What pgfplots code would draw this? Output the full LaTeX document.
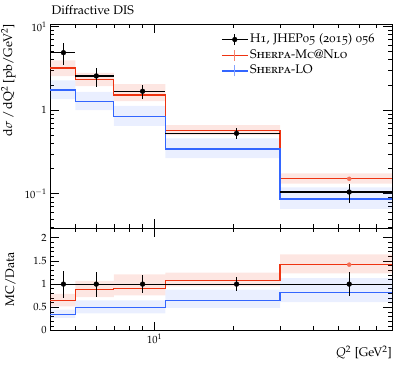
\documentclass[border=0pt]{standalone}
\usepackage[T1]{fontenc}
\usepackage[osf]{mathpazo}
\usepackage{pgfplots}
\usepackage{pgfplotstable}
\pgfplotsset{compat=1.18}
\definecolor{rred}{HTML}{EE3311}
\definecolor{rblue}{HTML}{3366FF}

\pgfplotstableread{
x y ex ey
4.5 4.86 0.5 1.4
6 2.56 1 0.65
9 1.68 2 0.34
20.5 0.528 9.5 0.08
55 0.105 25 0.027
}\data

\pgfplotstableread{
x y ex ey
4.5 1 0.5 0.29
6 1 1 0.27
9 1 2 0.20
20.5 1 9.5 0.155
55 1 25 0.26
}\dataratio

\pgfplotstableread{
x red blue
4 3.19 1.74
5 2.30 1.28
7 1.52 0.832
11 0.567 0.343
30 0.151 0.0865
80 0.151 0.0865
}\mc

\pgfplotstableread{
x red blue
4 0.64 0.35
5 0.88 0.49
7 0.90 0.49
11 1.08 0.65
30 1.42 0.82
80 1.42 0.82
}\ratio

\newcommand{\lblfont}{\fontsize{12.5}{15}\selectfont}

\begin{document}
\begin{tikzpicture}[font=\fontsize{12}{14}\selectfont]
\useasboundingbox (0bp,0bp) rectangle (405bp,365bp);
% ---------- main panel
\begin{axis}[
  at={(50bp,137bp)}, anchor=south west,
  scale only axis, width=342bp, height=204bp,
  xmode=log, ymode=log, xmin=4, xmax=80, ymin=0.039, ymax=10.7,
  xtick={10}, minor xtick={5,6,7,8,9,20,30,40,50,60,70},
  xticklabels={},
  ytick={0.1,1,10}, yticklabels={$10^{-1}$,$1$,$10^{1}$},
  minor ytick={0.04,0.05,0.06,0.07,0.08,0.09,0.2,0.3,0.4,0.5,0.6,0.7,0.8,0.9,2,3,4,5,6,7,8,9},
  major tick length=9bp, minor tick length=4.5bp,
  tick align=inside, tick pos=both,
  axis line style={line width=0.8bp},
  tick style={line width=0.6bp, black},
  tick label style={font=\fontsize{10.5}{12}\selectfont},
  title={\lblfont Diffractive DIS},
  title style={at={(rel axis cs:0,1)}, anchor=base west, inner sep=0pt, xshift=1.5bp, yshift=4bp},
  ylabel={\lblfont d$\sigma$\,/\,dQ$^2$ [pb/GeV$^2$]},
  ylabel style={at={(rel axis cs:-0.1,1)}, anchor=south east, inner sep=0pt},
  legend style={at={(rel axis cs:0.5,0.962)}, anchor=north west, draw=none, fill=none,
    inner sep=0pt, row sep=0.5bp, font=\fontsize{12.5}{14}\selectfont,
    nodes={inner sep=1.6bp, text height=9bp, text depth=3bp}},
  legend cell align=left,
]
\addlegendimage{legend image code/.code={
  \draw[black, line width=1.2bp] (0bp,0bp) -- (26bp,0bp);
  \draw[black, line width=1.2bp] (13bp,-5.5bp) -- (13bp,5.5bp);
  \fill[black] (13bp,0bp) circle (2.4bp);}}
\addlegendentry{\fontsize{12.5}{14}\selectfont H1, JHEP05 (2015) 056}
\addlegendimage{legend image code/.code={
  \draw[rred, line width=1.2bp] (0bp,0bp) -- (26bp,0bp);
  \draw[rred!60, line width=1.2bp] (13bp,-5.5bp) -- (13bp,5.5bp);}}
\addlegendentry{\fontsize{12.5}{14}\selectfont\textsc{Sherpa-Mc@Nlo}}
\addlegendimage{legend image code/.code={
  \draw[rblue, line width=1.2bp] (0bp,0bp) -- (26bp,0bp);
  \draw[rblue!60, line width=1.2bp] (13bp,-5.5bp) -- (13bp,5.5bp);}}
\addlegendentry{\fontsize{12.5}{14}\selectfont\textsc{Sherpa-LO}}

\addplot[fill=rred, fill opacity=0.12, draw=none, forget plot] coordinates {
(4,3.94)(5,3.94)(5,2.78)(7,2.78)(7,2.04)(11,2.04)(11,0.663)(30,0.663)(30,0.175)(80,0.175)
(80,0.132)(30,0.132)(30,0.504)(11,0.504)(11,1.28)(7,1.28)(7,1.93)(5,1.93)(5,2.54)(4,2.54)} -- cycle;
\addplot[fill=rblue, fill opacity=0.10, draw=none, forget plot] coordinates {
(4,2.27)(5,2.27)(5,1.65)(7,1.65)(7,1.12)(11,1.12)(11,0.46)(30,0.46)(30,0.119)(80,0.119)
(80,0.066)(30,0.066)(30,0.266)(11,0.266)(11,0.65)(7,0.65)(7,1.0)(5,1.0)(5,1.35)(4,1.35)} -- cycle;

\addplot[const plot, rred, line width=1.2bp, forget plot] table[x=x, y=red] {\mc};
\addplot[const plot, rblue, line width=1.2bp, forget plot] table[x=x, y=blue] {\mc};
\addplot[forget plot, rred!70, only marks, mark=none,
  error bars/.cd, y dir=both, y explicit, error mark=none,
  error bar style={line width=0.8bp, rred!70}]
  coordinates {(55,0.151) +- (0,0.005)};
\addplot[forget plot, black, only marks, mark=*, mark size=2.4bp,
  error bars/.cd, x dir=both, x explicit, y dir=both, y explicit,
  error mark=none, error bar style={line width=1.2bp, black}]
  table[x=x, y=y, x error=ex, y error=ey] {\data};
\end{axis}

% ---------- ratio panel
\begin{axis}[
  at={(50bp,34.5bp)}, anchor=south west,
  scale only axis, width=342bp, height=102.5bp,
  xmode=log, xmin=4, xmax=80, ymin=0, ymax=2.21,
  xtick={10}, minor xtick={5,6,7,8,9,20,30,40,50,60,70},
  xticklabels={$10^{1}$},
  ytick={0,0.5,1,1.5,2}, minor y tick num=4,
  major tick length=9bp, minor tick length=4.5bp,
  tick align=inside, tick pos=both,
  axis line style={line width=0.8bp},
  tick style={line width=0.6bp, black},
  tick label style={font=\fontsize{10.5}{12}\selectfont},
  ylabel={\lblfont MC/Data},
  ylabel style={at={(rel axis cs:-0.1,0.5)}, anchor=south, inner sep=0pt},
  xlabel={\lblfont $Q^2$ [GeV$^2$]},
  xlabel style={at={(rel axis cs:1,-0.258)}, anchor=base east, inner sep=0pt},
]
\addplot[fill=rred, fill opacity=0.12, draw=none] coordinates {
(4,0.79)(5,0.79)(5,1.07)(7,1.07)(7,1.21)(11,1.21)(11,1.25)(30,1.25)(30,1.64)(80,1.64)
(80,1.23)(30,1.23)(30,0.95)(11,0.95)(11,0.76)(7,0.76)(7,0.72)(5,0.72)(5,0.52)(4,0.52)} -- cycle;
\addplot[fill=rblue, fill opacity=0.10, draw=none] coordinates {
(4,0.45)(5,0.45)(5,0.65)(7,0.65)(11,0.65)(11,0.88)(30,0.88)(30,1.13)(80,1.13)
(80,0.61)(30,0.61)(30,0.49)(11,0.49)(11,0.37)(5,0.37)(5,0.27)(4,0.27)} -- cycle;

\addplot[const plot, rred, line width=1.2bp] table[x=x, y=red] {\ratio};
\addplot[const plot, rblue, line width=1.2bp] table[x=x, y=blue] {\ratio};
\addplot[rred!70, only marks, mark=none,
  error bars/.cd, y dir=both, y explicit, error mark=none,
  error bar style={line width=0.8bp, rred!70}]
  coordinates {(55,1.42) +- (0,0.04)};
\addplot[black, line width=1.2bp] coordinates {(4,1) (80,1)};
\addplot[black, only marks, mark=*, mark size=2.4bp,
  error bars/.cd, x dir=both, x explicit, y dir=both, y explicit,
  error mark=none, error bar style={line width=1.2bp, black}]
  table[x=x, y=y, x error=ex, y error=ey] {\dataratio};
\end{axis}
\end{tikzpicture}
\end{document}
